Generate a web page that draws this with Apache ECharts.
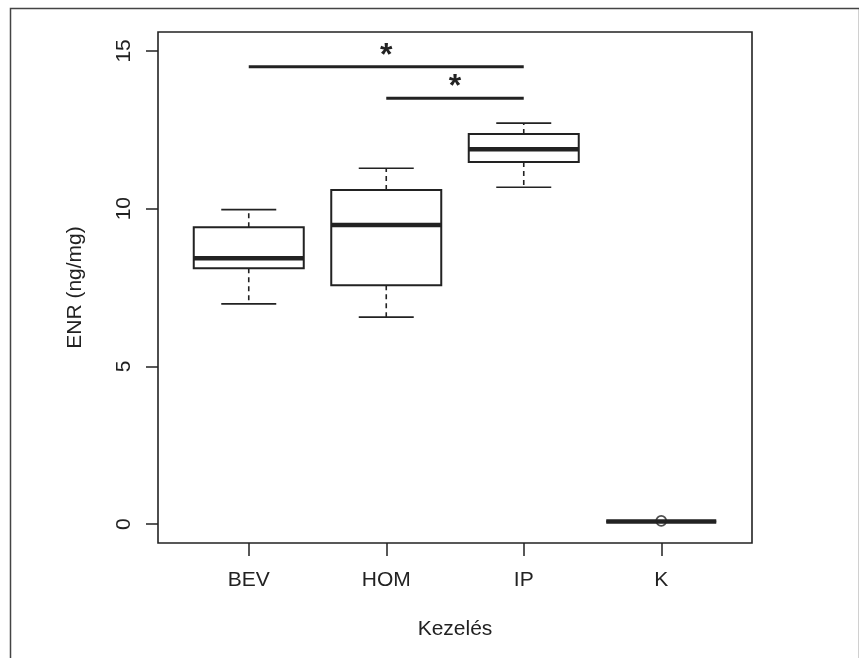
<!DOCTYPE html>
<html>
<head>
<meta charset="utf-8">
<script src="https://cdn.jsdelivr.net/npm/echarts@6/dist/echarts.min.js"></script>
<style>
html,body{margin:0;padding:0;background:#fff;}
#c{width:859px;height:658px;}
</style>
</head>
<body>
<div id="c"></div>
<script>
const categories = ['BEV', 'HOM', 'IP', 'K'];
const lowerWhisker = [6.98, 6.56, 10.68, 0.08];
const q1 = [8.11, 7.57, 11.48, 0.08];
const median = [8.43, 9.48, 11.88, 0.08];
const q3 = [9.41, 10.59, 12.37, 0.08];
const upperWhisker = [9.97, 11.28, 12.71, 0.08];
const outlierCategory = ['K'];
const outlierValue = [0.1];
const sigFrom = ['BEV', 'HOM'];
const sigTo = ['IP', 'IP'];
const sigLevel = [14.5, 13.5];
const sigLabel = ['*', '*'];
const yTicks = [0, 5, 10, 15];

const catPos = c => categories.indexOf(c) + 1;
const boxData = categories.map((c, i) => [i + 1, lowerWhisker[i], q1[i], median[i], q3[i], upperWhisker[i]]);
const outData = outlierCategory.map((c, i) => [catPos(c), outlierValue[i]]);
const sigData = sigFrom.map((f, i) => [catPos(f), catPos(sigTo[i]), sigLevel[i]]);

const ink = '#222';
const font = '"Liberation Sans", Arial, sans-serif';
const chart = echarts.init(document.getElementById('c'), null, {renderer: 'canvas'});
chart.setOption({
  backgroundColor: '#fff',
  animation: false,
  textStyle: {fontFamily: font, color: ink},
  graphic: [{
    type: 'rect', left: 8, top: 6, shape: {width: 849, height: 720},
    style: {fill: 'none', stroke: '#444', lineWidth: 1.5}, silent: true, z: -1
  }],
  grid: {left: 158, right: 107, top: 32, bottom: 115, show: true, borderColor: ink, borderWidth: 1.6, backgroundColor: 'transparent'},
  xAxis: {
    type: 'value', min: 0.34, max: 4.66,
    splitLine: {show: false},
    axisLine: {show: false, onZero: false},
    axisTick: {show: true, length: 13, lineStyle: {color: ink, width: 1.5}, customValues: [1, 2, 3, 4]},
    axisLabel: {
      customValues: [1, 2, 3, 4],
      formatter: v => categories[Math.round(v) - 1] || '',
      fontSize: 21, fontFamily: font, color: ink, margin: 27
    },
    name: 'Kezelés', nameLocation: 'middle', nameGap: 76,
    nameTextStyle: {fontSize: 21, fontFamily: font, color: ink}
  },
  yAxis: {
    type: 'value', min: -0.6, max: 15.6,
    splitLine: {show: false},
    axisLine: {show: false, onZero: false},
    axisTick: {show: true, length: 12, lineStyle: {color: ink, width: 1.5}, customValues: yTicks},
    axisLabel: {customValues: yTicks, rotate: 90, fontSize: 21, fontFamily: font, color: ink, margin: 23},
    name: 'ENR (ng/mg)', nameLocation: 'middle', nameGap: 72, nameRotate: 90,
    nameTextStyle: {fontSize: 21, fontFamily: font, color: ink}
  },
  series: [
    {
      type: 'custom',
      data: boxData,
      encode: {x: 0, y: [1, 2, 3, 4, 5]},
      renderItem: function (params, api) {
        const x = api.value(0);
        const cx = api.coord([x, 0])[0];
        const hw = api.size([0.8, 0])[0] / 2;
        const hs = api.size([0.4, 0])[0] / 2;
        const yLw = api.coord([x, api.value(1)])[1];
        const yQ1 = api.coord([x, api.value(2)])[1];
        const yMed = api.coord([x, api.value(3)])[1];
        const yQ3 = api.coord([x, api.value(4)])[1];
        const yUw = api.coord([x, api.value(5)])[1];
        const solid = {stroke: ink, lineWidth: 1.6, fill: 'none'};
        const dashed = {stroke: ink, lineWidth: 1.6, lineDash: [5, 4], fill: 'none'};
        return {
          type: 'group',
          children: [
            {type: 'line', shape: {x1: cx, y1: yQ3, x2: cx, y2: yUw}, style: dashed},
            {type: 'line', shape: {x1: cx, y1: yQ1, x2: cx, y2: yLw}, style: dashed},
            {type: 'line', shape: {x1: cx - hs, y1: yUw, x2: cx + hs, y2: yUw}, style: solid},
            {type: 'line', shape: {x1: cx - hs, y1: yLw, x2: cx + hs, y2: yLw}, style: solid},
            {type: 'rect', shape: {x: cx - hw, y: yQ3, width: 2 * hw, height: yQ1 - yQ3}, style: {stroke: ink, lineWidth: 2, fill: '#fff'}},
            {type: 'line', shape: {x1: cx - hw, y1: yMed, x2: cx + hw, y2: yMed}, style: {stroke: ink, lineWidth: 4.5}}
          ]
        };
      }
    },
    {
      type: 'scatter',
      data: outData,
      symbol: 'circle', symbolSize: 10,
      itemStyle: {color: 'rgba(255,255,255,0)', borderColor: ink, borderWidth: 1.8},
      z: 5
    },
    {
      type: 'custom',
      data: sigData,
      encode: {x: [0, 1], y: 2},
      renderItem: function (params, api) {
        const p1 = api.coord([api.value(0), api.value(2)]);
        const p2 = api.coord([api.value(1), api.value(2)]);
        return {
          type: 'group',
          children: [
            {type: 'line', shape: {x1: p1[0], y1: p1[1], x2: p2[0], y2: p2[1]}, style: {stroke: ink, lineWidth: 3}},
            {type: 'text', style: {
              text: sigLabel[params.dataIndex], x: (p1[0] + p2[0]) / 2, y: p1[1] + 5,
              align: 'center', verticalAlign: 'bottom', fontSize: 32, fontWeight: 'bold',
              fontFamily: 'Liberation Sans, Arial, sans-serif', fill: ink
            }}
          ]
        };
      }
    }
  ]
});
</script>
</body>
</html>
